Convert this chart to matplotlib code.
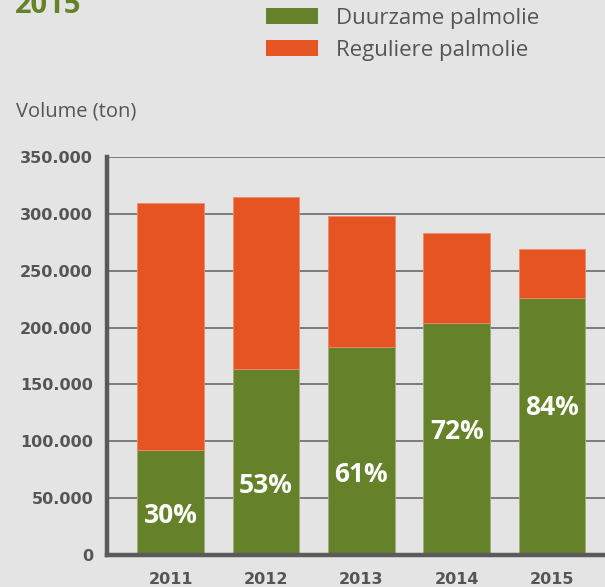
import matplotlib.pyplot as plt
from matplotlib.patches import Patch

# data
jaren = ["2011", "2012", "2013", "2014", "2015"]
duurzaam = [92500, 164000, 183000, 204000, 226000]
regulier = [217000, 151000, 115000, 79000, 43000]
percentages = ["30%", "53%", "61%", "72%", "84%"]
label_hoogte = [35000, 61000, 71000, 109000, 129500]
yticks = [0, 50000, 100000, 150000, 200000, 250000, 300000, 350000]

groen = "#65822a"
oranje = "#e65423"
achtergrond = "#e3e4e3"
tekst = "#555555"

fig = plt.figure(figsize=(6.05, 5.87), dpi=100, facecolor=achtergrond)
ax = fig.add_axes([107 / 605, 1 - 555 / 587, 1 - 107 / 605, (555 - 157) / 587])
ax.set_facecolor(achtergrond)

x = list(range(len(jaren)))
ax.bar(x, duurzaam, width=0.70, color=groen, edgecolor="#9cae7a", linewidth=0.6, zorder=3)
ax.bar(x, regulier, bottom=duurzaam, width=0.70, color=oranje,
       edgecolor="#f08a66", linewidth=0.6, zorder=3)

for xi, h, p in zip(x, label_hoogte, percentages):
    ax.text(xi, h, p, ha="center", va="center", color="white",
            fontsize=19, fontweight="bold", family="Open Sans", zorder=4)

ax.set_xlim(-0.666, 4.555)
ax.set_ylim(0, 350000)
ax.set_yticks(yticks)
ax.set_yticklabels(["{:,}".format(v).replace(",", ".") for v in yticks])
ax.set_xticks(x)
ax.set_xticklabels(jaren)
ax.tick_params(length=0, labelsize=11.5, labelcolor=tekst)
ax.tick_params(axis="y", pad=10)
ax.tick_params(axis="x", pad=12)
for lab in ax.get_xticklabels() + ax.get_yticklabels():
    lab.set_fontweight("bold")

ax.grid(axis="y", color="#6a6a6a", linewidth=1.2, zorder=1)
ax.grid(axis="x", visible=False)
for side in ["top", "right"]:
    ax.spines[side].set_visible(False)
for side in ["left", "bottom"]:
    ax.spines[side].set_color("#5a5a5a")
    ax.spines[side].set_linewidth(3.2)
    ax.spines[side].set_zorder(5)

fig.text(15 / 605, 1 - 13 / 587, "2015", color=groen, fontsize=21,
         fontweight="bold", family="Open Sans", ha="left", va="baseline")
fig.text(16 / 605, 1 - 112 / 587, "Volume (ton)", color=tekst, fontsize=14.5,
         family="Open Sans", ha="left", va="center")

handles = [Patch(facecolor=groen, label="Duurzame palmolie"),
           Patch(facecolor=oranje, label="Reguliere palmolie")]
leg = fig.legend(handles=handles, loc="upper left",
                 bbox_to_anchor=(266 / 605, 1 - 8 / 587), frameon=False,
                 prop={"family": "Open Sans", "size": 16},
                 handlelength=2.35, handleheight=0.72, handletextpad=0.8,
                 labelspacing=0.5, borderpad=0, borderaxespad=0)
for t in leg.get_texts():
    t.set_color(tekst)

fig.savefig("out.png", dpi=100, facecolor=achtergrond)
